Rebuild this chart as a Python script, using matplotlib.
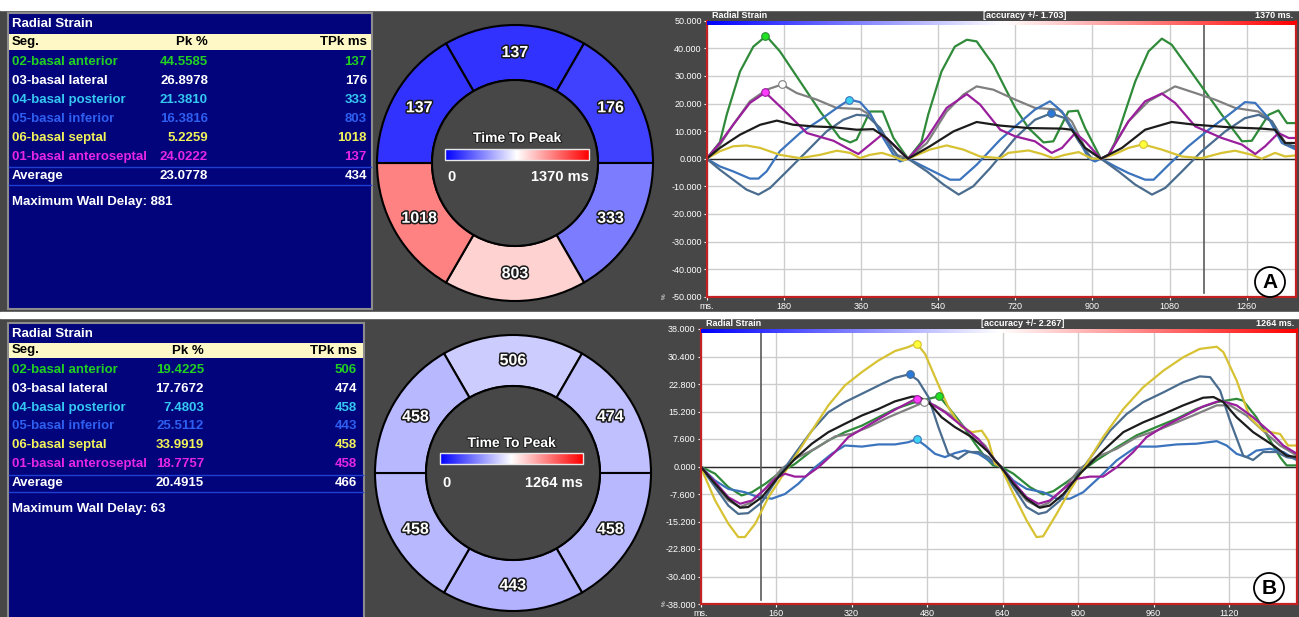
import matplotlib.pyplot as plt
import matplotlib.patheffects as pe
from matplotlib.patches import Rectangle, Wedge, Circle
import numpy as np

plt.rcParams['font.family'] = ['Liberation Sans', 'DejaVu Sans']
NARROW = ['Liberation Sans Narrow', 'Liberation Sans', 'DejaVu Sans']

# ---- table data ----
segments = ['02-basal anterior', '03-basal lateral', '04-basal posterior',
            '05-basal inferior', '06-basal septal', '01-basal anteroseptal']
seg_text_colors = ['#22d022', '#ffffff', '#35c8f2', '#2f5ff0', '#f2f25a', '#e626e6']
line_colors = ['#2f8a3a', '#808080', '#3b74bd', '#4a6c8e', '#d6c232', '#9a1f9c']
marker_colors = ['#22e022', '#ffffff', '#3cd2f2', '#2a78d8', '#ffff3a', '#ff3cff']
avg_color = '#1c1c1c'

a_pk = [44.5585, 26.8978, 21.3810, 16.3816, 5.2259, 24.0222]
a_tpk = [137, 176, 333, 803, 1018, 137]
a_avg_pk, a_avg_tpk, a_delay, a_tmax = 23.0778, 434, 881, 1370
a_accuracy = 1.703

b_pk = [19.4225, 17.7672, 7.4803, 25.5112, 33.9919, 18.7757]
b_tpk = [506, 474, 458, 443, 458, 458]
b_avg_pk, b_avg_tpk, b_delay, b_tmax = 20.4915, 466, 63, 1264
b_accuracy = 2.267

# ---- curve data (ms, %) panel A ----
a_t_02 = [0, 31, 47, 78, 109, 139, 171, 218, 265, 311, 335, 350, 381, 411, 436, 470, 501, 517, 548, 579, 607, 630, 669, 720, 751, 786, 809, 844, 866, 883, 920, 938, 953, 969, 1000, 1031, 1062, 1085, 1124, 1163, 1202, 1249, 1272, 1311, 1334, 1354, 1375]
a_v_02 = [0, 6, 16, 31.6, 40.6, 44.5, 38.9, 28, 17.1, 7.5, 5.9, 6.9, 17.1, 17.1, 7.5, 0, 6, 16, 31.6, 40.6, 43.1, 42.5, 34, 18.4, 11.1, 5.9, 6.3, 17.1, 17.4, 11.1, 0, 1.4, 6, 13.5, 28, 38.9, 43.5, 41.3, 32.9, 24.4, 15.9, 6.3, 6.5, 15.9, 17.5, 12.9, 12.9]
a_t_03 = [0, 31, 62, 101, 140, 176, 210, 257, 303, 358, 381, 412, 443, 470, 514, 560, 599, 630, 669, 720, 766, 821, 852, 883, 920, 937, 984, 1031, 1093, 1140, 1186, 1233, 1287, 1319, 1350, 1375]
a_v_03 = [0, 5, 12.3, 20.8, 25, 26.9, 23.8, 21.4, 18.4, 18, 15.9, 8.7, 1.4, 0, 5.7, 17.1, 23.2, 26.2, 25, 21.4, 18.4, 17.8, 13.5, 3.9, 0, 1.4, 13.5, 20.8, 26.2, 23.8, 21.4, 18.4, 17.1, 13.5, 5.7, 3.9]
a_t_04 = [0, 31, 62, 101, 121, 140, 171, 218, 265, 304, 333, 358, 381, 412, 436, 451, 470, 498, 529, 568, 591, 630, 685, 720, 766, 801, 829, 860, 891, 906, 920, 953, 984, 1023, 1043, 1078, 1124, 1171, 1218, 1256, 1280, 1311, 1342, 1375]
a_v_04 = [0, -2.8, -4.6, -7.2, -7.2, -4.6, 2.7, 9.3, 14.1, 18.4, 21.4, 20.5, 16.5, 7.5, 1.4, -1, 0, -2.2, -4.6, -7.6, -7.6, -2.2, 6.9, 11.7, 17.8, 20.8, 17.1, 9.3, 0.2, -1, 0, -2.8, -5.2, -7.6, -7.6, -2.2, 4.5, 10.5, 15.9, 20.5, 20.2, 14.7, 5.7, 3.3]
a_t_05 = [0, 31, 62, 93, 121, 148, 187, 234, 280, 319, 350, 374, 405, 432, 451, 470, 514, 553, 588, 622, 661, 680, 720, 766, 803, 836, 868, 899, 920, 961, 1000, 1039, 1070, 1109, 1155, 1210, 1256, 1288, 1319, 1350, 1375]
a_v_05 = [0, -4, -7.6, -11.2, -13, -10.6, -4.6, 2.7, 9.9, 14.1, 15.9, 15.6, 11.1, 3.9, 0, 0, -4.6, -9.4, -13, -10, -3.5, 0, 7.5, 14.1, 16.4, 14.7, 6.3, 0, 0, -4.6, -9.4, -13, -10.6, -4.6, 2.7, 9.9, 14.7, 15.9, 13.5, 5.1, 4.5]
a_t_06 = [0, 31, 62, 93, 125, 171, 218, 265, 304, 335, 358, 381, 409, 436, 459, 470, 521, 560, 599, 638, 685, 704, 751, 782, 809, 836, 868, 899, 920, 953, 984, 1018, 1062, 1109, 1155, 1202, 1233, 1272, 1295, 1326, 1350, 1375]
a_v_06 = [0, 2.7, 4.5, 4.8, 3.9, 1.4, 0.2, 1.4, 2.9, 2.1, 0.2, 1.4, 2.1, 0.8, -0.6, 0, 3.3, 4.8, 3.3, 0.8, 0.2, 2.1, 3, 1.7, 0.2, 1.4, 2.4, 0, 0, 1.7, 3.9, 5.2, 3.3, 0.8, 0.2, 2.1, 2.9, 1.4, 0, 2.1, 0.8, 1.2]
a_t_01 = [0, 31, 62, 101, 137, 179, 234, 296, 327, 354, 381, 409, 436, 470, 514, 560, 607, 638, 685, 720, 766, 805, 829, 860, 883, 920, 938, 984, 1023, 1062, 1093, 1140, 1202, 1249, 1280, 1303, 1334, 1358, 1375]
a_v_01 = [0, 5.7, 12.3, 20.2, 24, 17.8, 9.3, 6.5, 3.9, 1.7, 5.1, 8.7, 5.1, 0, 7.5, 18.4, 23.4, 19.6, 10.5, 8.1, 6.3, 2.1, 3.9, 9.3, 6.3, 0, 1.4, 13.5, 20.8, 23.6, 20.2, 11.7, 7.5, 5.1, 1.7, 4.5, 9.3, 7.5, 7.5]
a_t_avg = [0, 31, 78, 125, 164, 202, 249, 296, 350, 389, 420, 451, 470, 521, 576, 630, 685, 751, 829, 852, 883, 920, 969, 1023, 1085, 1140, 1218, 1295, 1326, 1350, 1375]
a_v_avg = [0, 3.9, 8.7, 12.3, 13.8, 12.3, 11.7, 11.4, 10.5, 10.7, 7.5, 2.7, 0, 4.5, 9.9, 13.3, 12, 11.1, 10.9, 10.5, 3.9, 0, 3.9, 10.5, 13.3, 12.3, 11.4, 10.9, 10.5, 5.7, 5.7]

# ---- curve data (ms, %) panel B ----
b_t_02 = [0, 31, 59, 87, 109, 137, 165, 200, 236, 271, 306, 342, 377, 412, 448, 483, 506, 525, 553, 582, 603, 620, 636, 663, 698, 726, 748, 776, 804, 839, 882, 924, 966, 1009, 1051, 1094, 1136, 1150, 1178, 1207, 1228, 1242, 1264]
b_v_02 = [0, -2, -5.7, -8, -7.1, -4.8, -2, 0.7, 4.4, 7.2, 9.5, 11.3, 13.6, 15.9, 17.5, 18.7, 19.4, 16.4, 11.8, 6.3, 2.6, 0.3, 0, -2, -5.7, -7.7, -6.8, -4.3, -1.6, 1.7, 5.3, 8.6, 10.9, 13.2, 15.9, 17.8, 18.7, 18.2, 13.6, 7.2, 2.6, 0.3, 0.3]
b_t_03 = [0, 31, 59, 84, 105, 137, 172, 207, 243, 285, 320, 356, 398, 440, 474, 497, 532, 567, 603, 624, 636, 663, 691, 716, 737, 769, 804, 839, 882, 924, 966, 1009, 1051, 1094, 1122, 1157, 1192, 1228, 1264]
b_v_03 = [0, -5.2, -9.4, -11.2, -10.1, -6.2, -0.6, 2.6, 4.9, 8.3, 9, 10.9, 13.6, 15.9, 17.8, 16.9, 14.1, 9.9, 5.8, 1.7, 0, -5.2, -9.4, -11.2, -10.1, -6.2, -0.6, 2.6, 4.9, 8.1, 9.9, 12.2, 14.5, 16.9, 16.9, 14.1, 9.9, 5.8, 3]
b_t_04 = [0, 31, 59, 94, 123, 151, 179, 207, 243, 278, 306, 342, 377, 412, 440, 458, 476, 497, 518, 539, 560, 589, 624, 636, 663, 691, 726, 755, 783, 811, 846, 882, 924, 966, 1009, 1051, 1094, 1115, 1136, 1157, 1178, 1207, 1235, 1264]
b_v_04 = [0, -3.9, -6.2, -7.1, -8.5, -8.9, -7.6, -4.8, -0.2, 3.5, 5.8, 5.5, 6.1, 6.1, 6.7, 7.5, 5.8, 3.5, 2.6, 3.7, 4.4, 3.5, 0.6, 0, -3.9, -6.2, -7.1, -8.9, -8.9, -7.1, -2.9, 1.7, 5.5, 5.5, 6.1, 6.3, 7, 5.8, 3.5, 2.6, 4.4, 4.9, 4, 1.7]
b_t_05 = [0, 31, 59, 80, 101, 130, 165, 200, 236, 271, 306, 342, 384, 412, 443, 461, 483, 504, 525, 546, 567, 589, 610, 624, 636, 663, 691, 716, 733, 762, 797, 832, 868, 903, 938, 981, 1023, 1058, 1080, 1101, 1122, 1150, 1171, 1192, 1221, 1242, 1264]
b_v_05 = [0, -5.7, -10.8, -13.1, -12.9, -9.9, -2.9, 3.5, 9.9, 15, 17.8, 20.1, 22.8, 24.5, 25.5, 23.8, 19.2, 10.9, 3.5, 2.1, 4, 4, 2.6, 0.7, 0, -5.7, -11.2, -13.1, -12.6, -9.4, -2.9, 3.5, 9.9, 14.5, 17.8, 20.5, 23.3, 24.9, 24.7, 21, 12.7, 3, 1.8, 4, 4, 2.6, 2.1]
b_t_06 = [0, 31, 59, 80, 94, 116, 144, 172, 200, 236, 271, 306, 342, 377, 412, 440, 458, 476, 497, 525, 553, 575, 596, 610, 624, 636, 663, 691, 712, 726, 755, 783, 818, 853, 896, 938, 981, 1023, 1058, 1094, 1108, 1136, 1164, 1192, 1228, 1245, 1264]
b_v_06 = [0, -9.4, -15.8, -19.5, -19.5, -15.8, -8.5, -2.9, 2.6, 9.9, 16.9, 22.4, 26.1, 29.3, 31.9, 33, 34, 31.1, 24.7, 16.4, 10.9, 9.5, 9.9, 7.2, 0.7, 0, -7.6, -14.9, -19.5, -19.3, -13, -6.6, 0.7, 8.1, 15.9, 21.9, 26.5, 30.2, 32.5, 33.1, 31.6, 23.8, 13.6, 9.9, 9, 5.8, 5.8]
b_t_01 = [0, 31, 59, 84, 109, 137, 158, 179, 200, 222, 250, 285, 313, 349, 384, 419, 458, 483, 518, 553, 589, 624, 636, 663, 691, 716, 740, 769, 797, 825, 853, 882, 917, 945, 981, 1023, 1065, 1101, 1136, 1171, 1207, 1235, 1264]
b_v_01 = [0, -4.3, -8.5, -10.3, -9.4, -6.2, -3.4, -2, -2.8, -2.8, -0.2, 4, 8.1, 10.9, 13.6, 16.2, 18.8, 17.8, 15, 11.3, 7.6, 1.7, 0, -4.3, -8.5, -10.3, -9.4, -6.2, -3.4, -2.8, -2.8, -0.2, 4, 8.1, 11, 13.8, 16.6, 18.2, 16.9, 13.6, 9.5, 5.8, 3.5]
b_t_avg = [0, 31, 59, 84, 101, 130, 165, 200, 236, 271, 306, 342, 377, 412, 448, 461, 483, 511, 539, 575, 610, 624, 636, 663, 691, 719, 740, 769, 804, 846, 896, 938, 981, 1023, 1065, 1087, 1108, 1136, 1171, 1214, 1242, 1264]
b_v_avg = [0, -4.8, -8.9, -11.4, -11.2, -8.5, -2.9, 2.1, 6.3, 9.5, 11.8, 14.1, 15.9, 18, 19.3, 19.3, 17.8, 13.6, 10.9, 8.1, 4, 1.7, 0, -4.8, -8.9, -11.4, -10.8, -7.6, -2, 3.5, 9.5, 12.2, 14.5, 16.9, 19, 19.2, 17.8, 13.6, 9.5, 5.8, 3, 2.6]

a_yticks = [50, 40, 30, 20, 10, 0, -10, -20, -30, -40, -50]
a_xticks = [0, 180, 360, 540, 720, 900, 1080, 1260]
b_yticks = [38, 30.4, 22.8, 15.2, 7.6, 0, -7.6, -15.2, -22.8, -30.4, -38]
b_xticks = [0, 160, 320, 480, 640, 800, 960, 1120]
a_cursor, b_cursor = 1161, 128

W, H = 1299, 617
BG = '#474747'
NAVY = '#02047c'
fig = plt.figure(figsize=(W / 100, H / 100), dpi=100, facecolor=BG)


def px_axes(x0, y0, x1, y1, **kw):
    return fig.add_axes([x0 / W, 1 - y1 / H, (x1 - x0) / W, (y1 - y0) / H], **kw)


bg = fig.add_axes([0, 0, 1, 1], zorder=0)
bg.axis('off')
bg.add_patch(Rectangle((0, 0), W, 10, color='white'))
bg.add_patch(Rectangle((0, 312), W, 6, color='white'))


def draw_table(box, title_y, hdr, row0, dy, lines_y, delay_y, pk_x, tpk_x,
               pk, tpk, avg_pk, avg_tpk, delay):
    x0, y0, x1, y1 = box
    bg.add_patch(Rectangle((x0, y0), x1 - x0, y1 - y0, fc=NAVY, ec='#8c8c8c', lw=1.5))
    bg.text(x0 + 4, title_y, 'Radial Strain', color='white', fontsize=9.5,
            fontweight='bold', va='center')
    bg.add_patch(Rectangle((x0 + 1, hdr[0]), x1 - x0 - 2, hdr[1] - hdr[0], fc='#fdf8c6', lw=0))
    hy = (hdr[0] + hdr[1]) / 2
    bg.text(x0 + 4, hy, 'Seg.', color='black', fontsize=9.5, fontweight='bold', va='center')
    bg.text(pk_x, hy, 'Pk %', color='black', fontsize=9.5, fontweight='bold', va='center', ha='right')
    bg.text(tpk_x, hy, 'TPk ms', color='black', fontsize=9.5, fontweight='bold', va='center', ha='right')
    rows = list(zip(segments, pk, tpk, seg_text_colors)) + [('Average', avg_pk, avg_tpk, 'white')]
    for i, (name, p, t, c) in enumerate(rows):
        y = row0 + i * dy
        bg.text(x0 + 4, y, name, color=c, fontsize=9.5, fontweight='bold', va='center')
        bg.text(pk_x, y, f'{p:.4f}', color=c, fontsize=9.5, fontweight='bold', va='center', ha='right')
        bg.text(tpk_x, y, str(t), color=c, fontsize=9.5, fontweight='bold', va='center', ha='right')
    for ly in lines_y:
        bg.plot([x0 + 1, x1 - 1], [ly, ly], color='#1f3fd0', lw=1)
    bg.text(x0 + 4, delay_y, f'Maximum Wall Delay: {delay}', color='white', fontsize=9.5,
            fontweight='bold', va='center')


def draw_donut(cx, cy, r_out, r_in, tpk, tmax, bar, bar_title_y, bar_lab_y):
    centers = [90, 30, -30, -90, -150, 150]
    cmap = plt.cm.bwr
    rm = (r_out + r_in) / 2
    for ang, t in zip(centers, tpk):
        # y axis is inverted, so visual angles are mirrored
        bg.add_patch(Wedge((cx, cy), r_out, -(ang + 30), -(ang - 30), width=r_out - r_in,
                           fc=cmap(t / tmax), ec='black', lw=1.5))
        rad = np.deg2rad(ang)
        bg.text(cx + rm * np.cos(rad), cy - rm * np.sin(rad), str(t), color='white',
                fontsize=11.5, fontweight='bold', ha='center', va='center',
                path_effects=[pe.withStroke(linewidth=2.2, foreground='#1a1a1a')])
    bg.add_patch(Circle((cx, cy), r_in, fc=BG, ec='black', lw=1.5))
    bx0, by0, bx1, by1 = bar
    bg.imshow(np.linspace(0, 1, 256)[None, :], cmap=cmap, aspect='auto',
              extent=(bx0, bx1, by1, by0), zorder=3)
    bg.add_patch(Rectangle((bx0, by0), bx1 - bx0, by1 - by0, fc='none', ec='#e6e6e6', lw=1, zorder=4))
    bg.text((bx0 + bx1) / 2, bar_title_y, 'Time To Peak', color='white', fontsize=10,
            fontweight='bold', ha='center', va='center',
            path_effects=[pe.withStroke(linewidth=1.5, foreground='#222222')])
    bg.text(bx0 + 2, bar_lab_y, '0', color='white', fontsize=10.5, fontweight='bold',
            ha='left', va='center')
    bg.text(bx1, bar_lab_y, f'{tmax} ms', color='white', fontsize=10.5, fontweight='bold',
            ha='right', va='center')


def draw_chart(box, xmax, ylim, yticks, xticks, curves, pk, tpk, tmax, acc, cursor, cur_span, bar_h):
    ax = px_axes(*box, zorder=2)
    ax.set_facecolor('white')
    ax.set_xlim(0, xmax)
    ax.set_ylim(-ylim, ylim)
    ax.set_yticks(yticks)
    ax.set_yticklabels([f'{v:.3f}' for v in yticks])
    ax.set_xticks(xticks)
    ax.set_xticklabels(['ms.'] + [str(x) for x in xticks[1:]])
    ax.tick_params(colors='white', labelsize=6.5, length=2, pad=1.5)
    for lab in ax.get_xticklabels() + ax.get_yticklabels():
        lab.set_family(NARROW)
    ax.grid(True, color='#cdcdcd', lw=1)
    ax.set_axisbelow(True)
    ax.axhline(0, color='#2a2a2a', lw=1)
    for s in ['left', 'bottom', 'right']:
        ax.spines[s].set_color('#c42222')
        ax.spines[s].set_linewidth(1.6)
    ax.spines['top'].set_visible(False)
    ax.plot([cursor, cursor], cur_span, color='#5a5a5a', lw=1.2)
    for (t, v), c in zip(curves, line_colors + [avg_color]):
        ax.plot(t, v, color=c, lw=1.6)
    for i in range(len(segments)):
        ax.plot(tpk[i], pk[i], 'o', ms=5.5, mfc=marker_colors[i], mec=line_colors[i], mew=0.8)
    gax = ax.inset_axes([0, 1 - bar_h, 1, bar_h])
    gax.imshow(np.linspace(0, 1, 256)[None, :], cmap='bwr', aspect='auto')
    gax.axis('off')
    kw = dict(transform=ax.transAxes, color='white', fontsize=6.5, fontweight='bold',
              va='bottom', family=NARROW)
    ax.text(0.01, 1.004, 'Radial Strain', ha='left', **kw)
    ax.text(0.54, 1.004, f'[accuracy +/- {acc}]', ha='center', **kw)
    ax.text(0.995, 1.004, f'{tmax} ms.', ha='right', **kw)
    return ax


# ---- top row (A) ----
draw_table((8, 13, 372, 309), 24, (34, 50), 62, 19, (167, 185), 202, 208, 367,
           a_pk, a_tpk, a_avg_pk, a_avg_tpk, a_delay)
draw_donut(515, 163, 138, 83, a_tpk, a_tmax, (445, 149, 589, 160), 138, 177)
a_curves = [(a_t_02, a_v_02), (a_t_03, a_v_03), (a_t_04, a_v_04), (a_t_05, a_v_05),
            (a_t_06, a_v_06), (a_t_01, a_v_01), (a_t_avg, a_v_avg)]
draw_chart((706.6, 20.7, 1296, 296.7), 1375, 50, a_yticks, a_xticks, a_curves,
           a_pk, a_tpk, a_tmax, a_accuracy, a_cursor, (-48.5, 48.3), 4.5 / 276)

# ---- bottom row (B) ----
draw_table((8, 323, 364, 620), 334, (343, 358), 370, 18.8, (475, 492), 509, 204, 357,
           b_pk, b_tpk, b_avg_pk, b_avg_tpk, b_delay)
draw_donut(513, 473, 138, 87, b_tpk, b_tmax, (440, 453, 583, 464), 443, 483)
b_curves = [(b_t_02, b_v_02), (b_t_03, b_v_03), (b_t_04, b_v_04), (b_t_05, b_v_05),
            (b_t_06, b_v_06), (b_t_01, b_v_01), (b_t_avg, b_v_avg)]
draw_chart((700.5, 329, 1297, 604), b_tmax, 38, b_yticks, b_xticks, b_curves,
           b_pk, b_tpk, b_tmax, b_accuracy, b_cursor, (-37, 37.2), 4.5 / 275)

bg.set_xlim(0, W)
bg.set_ylim(H, 0)

# panel letters and small unit marks
ov = fig.add_axes([0, 0, 1, 1], zorder=5)
ov.set_xlim(0, W)
ov.set_ylim(H, 0)
ov.axis('off')
for (x, y), letter in [((1270, 282), 'A'), ((1269, 588), 'B')]:
    ov.add_patch(Circle((x, y), 15, fc='white', ec='black', lw=1.3))
    ov.text(x, y + 1, letter, fontsize=15, fontweight='bold', ha='center', va='center')
for y in (296, 603):
    ov.text(664, y, '%', color='white', fontsize=4.5, rotation=90, ha='center', va='center')

fig.savefig('out.png', dpi=100, facecolor=BG)
